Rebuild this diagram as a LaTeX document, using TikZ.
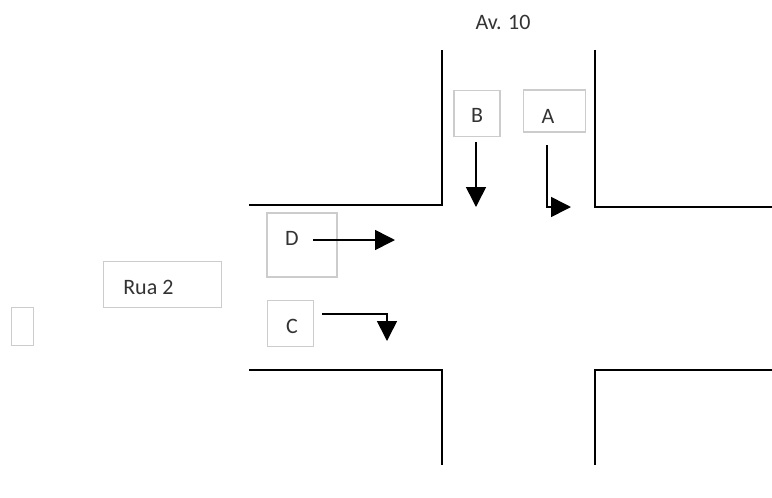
\documentclass[tikz,border=0pt]{standalone}
\usepackage{fontspec}
\setmainfont{Carlito}
\usetikzlibrary{arrows.meta}
\tikzset{
  road/.style={line width=1.6pt, black},
  lbl/.style={draw=black!20, line width=0.8pt, inner sep=0pt},
  txt/.style={font=\fontsize{16.5}{19}\selectfont, text=black!80, inner sep=0pt},
  mv/.style={line width=1.2pt, -{Triangle[length=15pt,width=15pt]}},
}
\begin{document}
\begin{tikzpicture}[x=0.75pt,y=-0.75pt]
\useasboundingbox (0,0) rectangle (772,497);
% roads
\draw[road] (442,50) -- (442,205) -- (249,205);
\draw[road] (595,50) -- (595,207) -- (772,207);
\draw[road] (249,370) -- (442,370) -- (442,465);
\draw[road] (772,370) -- (595,370) -- (595,465);
% boxes
\node[lbl, minimum width=34.5pt, minimum height=35pt] (B) at (477,113.5) {};
\node[lbl, minimum width=47pt, minimum height=31.5pt] (A) at (554.5,111) {};
\node[lbl, minimum width=52.5pt, minimum height=48pt] (D) at (302,245) {};
\node[lbl, minimum width=35pt, minimum height=35pt] (C) at (290.5,323.5) {};
\node[lbl, minimum width=88pt, minimum height=34pt] (rua) at (162.5,284.5) {};
\node[lbl, minimum width=17pt, minimum height=29pt] (e) at (22.5,326.5) {};
% texts
\node[txt] (av) at (503,22) {Av. 10};
\node[txt] (Bt) at (477,115) {B};
\node[txt] (At) at (548,116) {A};
\node[txt] (Dt) at (292,238) {D};
\node[txt] (Ct) at (292,326) {C};
\node[txt, anchor=west] (ruat) at (123,287) {Rua 2};
% arrows
\coordinate (b1) at (476,142); \coordinate (b2) at (476,207);
\draw[mv] (b1) -- (b2);
\coordinate (a1) at (547,145); \coordinate (a2) at (547,207); \coordinate (a3) at (571,207);
\draw[mv] (a1) -- (a2) -- (a3);
\coordinate (d1) at (313,240); \coordinate (d2) at (395,240);
\draw[mv] (d1) -- (d2);
\coordinate (c1) at (322,314); \coordinate (c2) at (387,314); \coordinate (c3) at (387,341);
\draw[mv] (c1) -- (c2) -- (c3);
\end{tikzpicture}
\end{document}
